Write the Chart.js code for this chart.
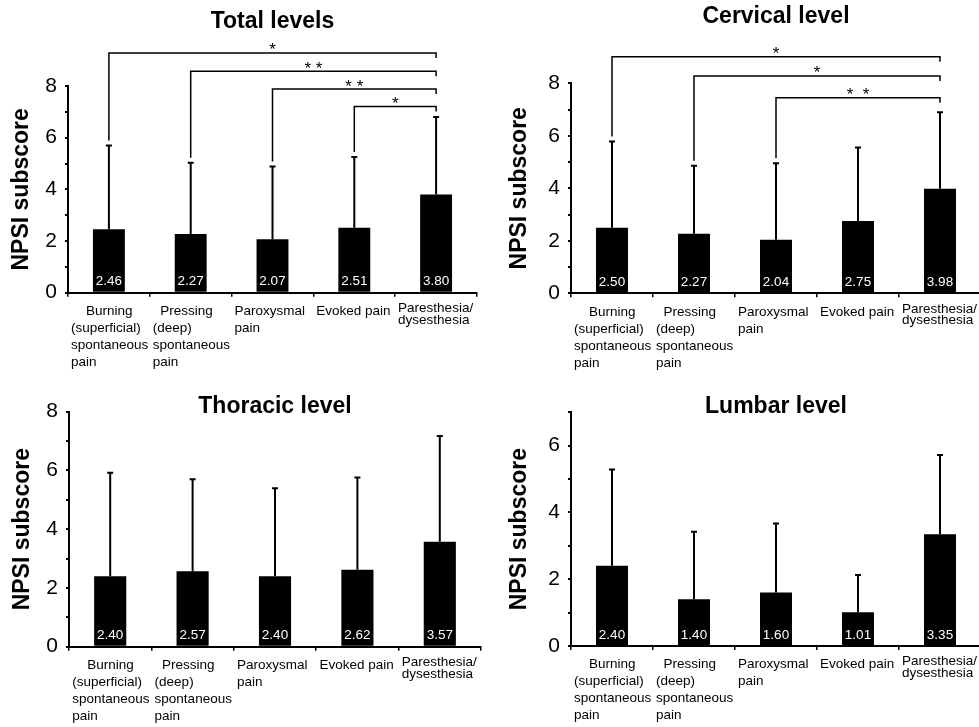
<!DOCTYPE html>
<html>
<head>
<meta charset="utf-8">
<script src="https://cdn.jsdelivr.net/npm/chart.js@4.4.1/dist/chart.umd.min.js"></script>
<style>
html, body { margin:0; padding:0; background:#fff; width:979px; height:727px; overflow:hidden; }
.panel { position:absolute; }
</style>
</head>
<body>
<div class="panel" style="left:0px;top:0px;"><canvas id="cTotal" width="490" height="380"></canvas></div>
<div class="panel" style="left:490px;top:0px;"><canvas id="cCervical" width="500" height="380"></canvas></div>
<div class="panel" style="left:0px;top:380px;"><canvas id="cThoracic" width="490" height="347"></canvas></div>
<div class="panel" style="left:490px;top:380px;"><canvas id="cLumbar" width="500" height="347"></canvas></div>
<script>
// ---------- DATA ----------
const categories = [
  ["    Burning", "(superficial)", "spontaneous", "pain"],
  ["  Pressing", "(deep)", "spontaneous", "pain"],
  ["Paroxysmal", "pain"],
  ["Evoked pain"],
  ["Paresthesia/", "dysesthesia"]
];
const yTickLabels8 = [0, 2, 4, 6, 8];
const yTickLabels7 = [0, 2, 4, 6];

const totalMean    = [2.46, 2.27, 2.07, 2.51, 3.80];
const totalSD      = [3.24, 2.76, 2.81, 2.74, 3.00];
const cervicalMean = [2.50, 2.27, 2.04, 2.75, 3.98];
const cervicalSD   = [3.28, 2.59, 2.91, 2.80, 2.92];
const thoracicMean = [2.40, 2.57, 2.40, 2.62, 3.57];
const thoracicSD   = [3.52, 3.13, 2.99, 3.14, 3.60];
const lumbarMean   = [2.40, 1.40, 1.60, 1.01, 3.35];
const lumbarSD     = [2.89, 2.02, 2.07, 1.12, 2.37];

// significance brackets: [from index, to index, level (score units), label]
const totalBrackets    = [[0, 4, 9.28, "*"], [1, 4, 8.57, "* *"], [2, 4, 7.88, "* *"], [3, 4, 7.21, "*"]];
const cervicalBrackets = [[0, 4, 9.01, "*"], [1, 4, 8.28, "*"], [2, 4, 7.45, "*  *"]];
const noBrackets = [];

// ---------- RENDER ----------
const FONT = '"Liberation Sans", Arial, Helvetica, sans-serif';
Chart.defaults.font.family = FONT;
Chart.defaults.color = '#000';

function marksPlugin(sd, brackets) {
  return {
    id: 'npsiMarks',
    afterDatasetsDraw(chart) {
      const ctx = chart.ctx;
      const y = chart.scales.y;
      const meta = chart.getDatasetMeta(0);
      const data = chart.data.datasets[0].data;
      ctx.save();
      // error bars (upper only)
      ctx.strokeStyle = '#000';
      ctx.lineWidth = 2;
      meta.data.forEach((bar, i) => {
        const top = y.getPixelForValue(data[i] + sd[i]);
        ctx.beginPath();
        ctx.moveTo(bar.x, bar.y);
        ctx.lineTo(bar.x, top);
        ctx.moveTo(bar.x - 3, top);
        ctx.lineTo(bar.x + 3, top);
        ctx.stroke();
      });
      // value labels inside bars
      const zero = y.getPixelForValue(0);
      ctx.fillStyle = '#fff';
      ctx.font = '13.5px ' + FONT;
      ctx.textAlign = 'center';
      ctx.textBaseline = 'middle';
      meta.data.forEach((bar, i) => {
        ctx.fillText(data[i].toFixed(2), bar.x, zero - 11);
      });
      // brackets
      ctx.lineWidth = 1.5;
      ctx.fillStyle = '#000';
      ctx.font = '17px ' + FONT;
      ctx.textBaseline = 'alphabetic';
      brackets.forEach(([a, b, level, label]) => {
        const xa = meta.data[a].x, xb = meta.data[b].x;
        const yl = y.getPixelForValue(level);
        const ya = y.getPixelForValue(data[a] + sd[a]) - 5;
        ctx.beginPath();
        ctx.moveTo(xa, ya);
        ctx.lineTo(xa, yl);
        ctx.lineTo(xb, yl);
        ctx.lineTo(xb, yl + 5);
        ctx.stroke();
        ctx.fillText(label, (xa + xb) / 2, yl + 2.5);
      });
      ctx.restore();
    }
  };
}

function makePanel(id, title, mean, sd, brackets, yMax, yLabels, L) {
  new Chart(document.getElementById(id), {
    type: 'bar',
    data: {
      labels: categories,
      datasets: [{
        data: mean,
        backgroundColor: '#000',
        borderWidth: 0,
        barPercentage: 0.39,
        categoryPercentage: 1.0
      }]
    },
    options: {
      responsive: false,
      animation: false,
      events: [],
      layout: { padding: { left: 0, right: L.right, top: 0, bottom: 0 } },
      plugins: {
        legend: { display: false },
        tooltip: { enabled: false },
        title: {
          display: true,
          text: title,
          fullSize: false,
          color: '#000',
          font: { size: 23, weight: 'bold', family: FONT, lineHeight: 1.2 },
          padding: { top: L.titleTop, bottom: L.titleBottom }
        }
      },
      scales: {
        x: {
          grid: { display: true, drawOnChartArea: false, drawTicks: true, tickLength: 4, color: '#000', lineWidth: 1.5, offset: true },
          border: { display: true, color: '#000', width: 2 },
          ticks: {
            autoSkip: false, maxRotation: 0, minRotation: 0,
            align: 'start', labelOffset: -38, padding: 6, color: '#000',
            font: (c) => ({ size: 13.5, family: FONT, lineHeight: c.index === 4 ? 0.85 : 1.26 })
          },
          afterFit: (s) => { s.height = L.xHeight; s.paddingLeft = 0; s.paddingRight = 0; }
        },
        y: {
          min: 0, max: yMax,
          grid: { display: true, drawOnChartArea: false, drawTicks: true, tickLength: 3, color: '#000', lineWidth: 2 },
          border: { display: true, color: '#000', width: 2 },
          ticks: {
            stepSize: 1, autoSkip: false, padding: 8, color: '#000',
            font: { size: 21, family: FONT },
            callback: (v) => yLabels.includes(v) ? String(v) : ''
          },
          title: {
            display: true, text: 'NPSI subscore', color: '#000',
            font: { size: 23, weight: 'bold', family: FONT, lineHeight: 1.2 },
            padding: { top: L.yTitlePad, bottom: 0 }
          },
          afterFit: (s) => { s.width = L.yWidth; s.paddingTop = 0; s.paddingBottom = 0; }
        }
      }
    },
    plugins: [marksPlugin(sd, brackets)]
  });
}

makePanel('cTotal', 'Total levels', totalMean, totalSD, totalBrackets, 8, yTickLabels8,
  { right: 13, titleTop: 7.9, titleBottom: 50.5, xHeight: 87.3, yWidth: 68, yTitlePad: 8.2 });
makePanel('cCervical', 'Cervical level', cervicalMean, cervicalSD, cervicalBrackets, 8, yTickLabels8,
  { right: 9, titleTop: 2.9, titleBottom: 52.8, xHeight: 86.7, yWidth: 81, yTitlePad: 16.2 });
makePanel('cThoracic', 'Thoracic level', thoracicMean, thoracicSD, noBrackets, 8, yTickLabels8,
  { right: 9, titleTop: 12.9, titleBottom: -8.8, xHeight: 80.3, yWidth: 69, yTitlePad: 9.2 });
makePanel('cLumbar', 'Lumbar level', lumbarMean, lumbarSD, noBrackets, 7, yTickLabels7,
  { right: 9, titleTop: 12.9, titleBottom: -8.2, xHeight: 81, yWidth: 81, yTitlePad: 16.2 });
</script>
</body>
</html>
